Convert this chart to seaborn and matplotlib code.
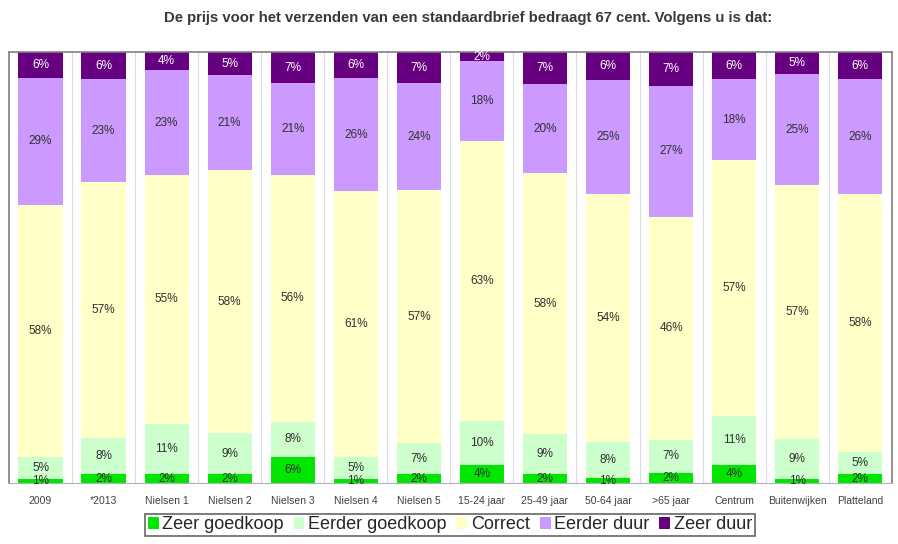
import numpy as np
import pandas as pd
import seaborn as sns
import matplotlib.pyplot as plt
from matplotlib.patches import Patch

# categories and answer shares (in %)
groups = ['2009', '*2013', 'Nielsen 1', 'Nielsen 2', 'Nielsen 3', 'Nielsen 4', 'Nielsen 5',
          '15-24 jaar', '25-49 jaar', '50-64 jaar', '>65 jaar', 'Centrum', 'Buitenwijken', 'Platteland']
zeer_goedkoop = [1, 2, 2, 2, 6, 1, 2, 4, 2, 1, 2, 4, 1, 2]
eerder_goedkoop = [5, 8, 11, 9, 8, 5, 7, 10, 9, 8, 7, 11, 9, 5]
correct = [58, 57, 55, 58, 56, 61, 57, 63, 58, 54, 46, 57, 57, 58]
eerder_duur = [29, 23, 23, 21, 21, 26, 24, 18, 20, 25, 27, 18, 25, 26]
zeer_duur = [6, 6, 4, 5, 7, 6, 7, 2, 7, 6, 7, 6, 5, 6]

series = ['Zeer goedkoop', 'Eerder goedkoop', 'Correct', 'Eerder duur', 'Zeer duur']
colors = ['#00E600', '#CCFFCC', '#FFFFC8', '#CC99FF', '#660080']
text_colors = ['#303030', '#303030', '#303030', '#303030', 'white']

sns.set_style('white')
plt.rcParams['font.family'] = ['Liberation Sans', 'DejaVu Sans']

df = pd.DataFrame({'groep': groups, 'Zeer goedkoop': zeer_goedkoop, 'Eerder goedkoop': eerder_goedkoop,
                   'Correct': correct, 'Eerder duur': eerder_duur, 'Zeer duur': zeer_duur})
vals = df[series].values.astype(float)
share = vals / vals.sum(axis=1, keepdims=True) * 100  # 100% stacked like excel
cum = np.cumsum(share, axis=1)

fig = plt.figure(figsize=(8.98, 5.44), dpi=100)
ax = fig.add_axes([0.010, 0.112, 0.983, 0.792])

# draw cumulative bars from the top down so each layer covers the next
for k in range(len(series) - 1, -1, -1):
    tmp = pd.DataFrame({'groep': groups, 'h': cum[:, k]})
    sns.barplot(data=tmp, x='groep', y='h', color=colors[k], width=0.7, saturation=1,
                edgecolor='none', ax=ax, zorder=2)

for i in range(len(groups)):
    for k in range(len(series)):
        mid = cum[i, k] - share[i, k] / 2
        ax.text(i, mid, '%d%%' % vals[i, k], ha='center', va='center', fontsize=8.5,
                color=text_colors[k], zorder=5)

ax.set_xlim(-0.5, len(groups) - 0.5)
ax.set_ylim(0, 100)
ax.set_yticks([])
ax.set_xlabel('')
ax.set_ylabel('')
ax.tick_params(axis='x', labelsize=7.5, colors='#404040', length=0, pad=9)
ax.set_xticks(np.arange(-0.5, len(groups), 1), minor=True)
ax.grid(True, which='minor', axis='x', color='#dcdce6', lw=0.8, zorder=0)
for s in ['left', 'top', 'right']:
    ax.spines[s].set_color('#808080')
    ax.spines[s].set_linewidth(1.2)
ax.spines['bottom'].set_color('#b0b0c0')

fig.text(0.521, 0.966, 'De prijs voor het verzenden van een standaardbrief bedraagt 67 cent. Volgens u is dat:',
         ha='center', va='center', fontsize=10.7, fontweight='bold', color='#383838')

handles = [Patch(facecolor=c, edgecolor='none') for c in colors]
leg = fig.legend(handles, series, loc='center', bbox_to_anchor=(0.501, 0.035), ncol=5,
                 fontsize=13, frameon=True, fancybox=False, edgecolor='#404040',
                 handlelength=0.6, handleheight=0.6, handletextpad=0.2, columnspacing=0.55,
                 borderpad=0.15)
leg.get_frame().set_linewidth(1.2)

fig.savefig('out.png', dpi=100)
